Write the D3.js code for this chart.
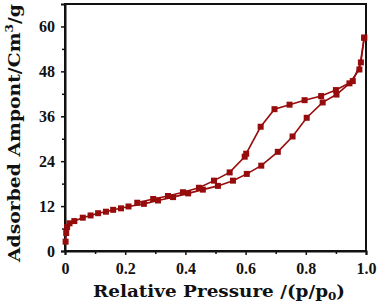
<!doctype html>
<html>
  <head>
    <meta charset="utf-8">
    <title>Isotherm</title>
    <script src="https://d3js.org/d3.v7.min.js"></script>
    <style>
      body { margin: 0; background: #fff; }
    </style>
  </head>
  <body>
    <script>
      // 吸附支 (relative pressure, adsorbed amount)
      const adsP = [0.002, 0.004, 0.007, 0.015, 0.031, 0.059, 0.085, 0.11, 0.136, 0.16, 0.186, 0.211,
                    0.262, 0.309, 0.359, 0.409, 0.458, 0.508, 0.558, 0.604, 0.652, 0.707, 0.756,
                    0.803, 0.856, 0.902, 0.945, 0.978, 0.994];
      const adsV = [2.5, 4.8, 6.4, 7.4, 8.0, 8.9, 9.5, 10.1, 10.5, 11.0, 11.4, 11.9,
                    12.6, 13.5, 14.4, 15.4, 16.4, 17.4, 18.8, 20.6, 22.8, 26.5, 30.6,
                    35.6, 39.7, 41.8, 44.8, 48.5, 57.0];
      // 脱附支
      const desP = [0.994, 0.983, 0.956, 0.90, 0.851, 0.796, 0.746, 0.696, 0.650, 0.602, 0.597,
                    0.547, 0.495, 0.445, 0.392, 0.342, 0.293, 0.240];
      const desV = [57.0, 50.4, 45.4, 43.0, 41.4, 40.3, 39.1, 37.9, 33.2, 26.0, 25.2,
                    21.0, 18.8, 16.9, 15.7, 14.7, 13.9, 12.9];

      const xTicks = [0, 0.2, 0.4, 0.6, 0.8, 1.0];
      const xMinor = [0.1, 0.3, 0.5, 0.7, 0.9];
      const yTicks = [0, 12, 24, 36, 48, 60];
      const yMinor = [6, 18, 30, 42, 54];

      const width = 381, height = 302;
      const margin = {top: 4, right: 15, bottom: 51, left: 65};
      const color = '#960c0c';

      const svg = d3.select('body').append('svg')
          .attr('width', width)
          .attr('height', height);

      const x = d3.scaleLinear().domain([0, 1]).range([margin.left, width - margin.right]);
      const y = d3.scaleLinear().domain([0, 66]).range([height - margin.bottom, margin.top]);

      // 坐标轴
      const xAxis = svg.append('g')
          .attr('transform', `translate(0,${height - margin.bottom})`)
          .call(d3.axisBottom(x).tickValues(xTicks).tickSize(4).tickPadding(8)
            .tickFormat(d => d === 0 ? '0' : d3.format('.1f')(d)));
      svg.append('g')
          .attr('transform', `translate(0,${height - margin.bottom})`)
          .call(d3.axisBottom(x).tickValues(xMinor).tickSize(3).tickFormat(''))
          .call(g => g.select('.domain').remove());

      const yAxis = svg.append('g')
          .attr('transform', `translate(${margin.left},0)`)
          .call(d3.axisLeft(y).tickValues(yTicks).tickSize(4).tickPadding(6));
      svg.append('g')
          .attr('transform', `translate(${margin.left},0)`)
          .call(d3.axisLeft(y).tickValues(yMinor).tickSize(3).tickFormat(''))
          .call(g => g.select('.domain').remove());

      svg.selectAll('.tick line').attr('stroke', '#111').attr('stroke-width', 1.5);
      svg.selectAll('.domain').attr('stroke', '#111').attr('stroke-width', 2);
      svg.selectAll('.tick text')
          .attr('font-family', '"Liberation Serif", serif')
          .attr('font-weight', 'bold')
          .attr('font-size', 16)
          .attr('fill', '#111');

      // 边框
      svg.append('rect')
          .attr('x', margin.left)
          .attr('y', margin.top)
          .attr('width', width - margin.left - margin.right)
          .attr('height', height - margin.top - margin.bottom)
          .attr('fill', 'none')
          .attr('stroke', '#111')
          .attr('stroke-width', 2);

      // 曲线
      const line = d3.line().x(d => x(d[0])).y(d => y(d[1]));
      const series = [d3.zip(adsP, adsV), d3.zip(desP, desV)];

      series.forEach(data => {
        svg.append('path')
            .datum(data)
            .attr('d', line)
            .attr('fill', 'none')
            .attr('stroke', color)
            .attr('stroke-width', 1.6);
        svg.append('g')
          .selectAll('rect')
          .data(data)
          .enter().append('rect')
            .attr('x', d => x(d[0]) - 3)
            .attr('y', d => y(d[1]) - 3)
            .attr('width', 6)
            .attr('height', 6)
            .attr('fill', color);
      });

      // 轴标题
      svg.append('text')
          .attr('x', 219)
          .attr('y', 297)
          .attr('text-anchor', 'middle')
          .attr('font-family', '"DejaVu Serif", serif')
          .attr('font-weight', 'bold')
          .attr('font-size', 17)
          .attr('fill', '#111')
          .attr('textLength', 252)
          .attr('lengthAdjust', 'spacingAndGlyphs')
          .html('Relative Pressure /(p/p<tspan font-size="11" dy="3">0</tspan><tspan dy="-3">)</tspan>');

      svg.append('text')
          .attr('transform', 'translate(20,133) rotate(-90)')
          .attr('text-anchor', 'middle')
          .attr('font-family', '"DejaVu Serif", serif')
          .attr('font-weight', 'bold')
          .attr('font-size', 17)
          .attr('fill', '#111')
          .attr('textLength', 258)
          .attr('lengthAdjust', 'spacingAndGlyphs')
          .html('Adsorbed Ampont/Cm<tspan font-size="11" dy="-7">3</tspan><tspan dy="7">/g</tspan>');
    </script>
  </body>
</html>
